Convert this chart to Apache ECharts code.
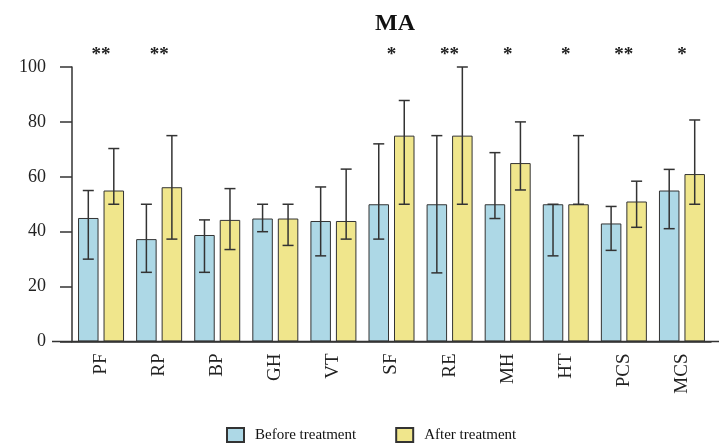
<!DOCTYPE html>
<html>
<head>
<meta charset="utf-8">
<script src="https://cdn.jsdelivr.net/npm/echarts@6/dist/echarts.min.js"></script>
<style>html,body{margin:0;padding:0;background:#fff;}#c{width:719px;height:446px;}</style>
</head>
<body>
<div id="c"></div>
<script>
const categories = ['PF','RP','BP','GH','VT','SF','RE','MH','HT','PCS','MCS'];
const beforeMean = [45, 37.3, 38.8, 44.8, 43.9, 50, 50, 50, 50, 43, 55];
const beforeLow  = [30, 25.2, 25.2, 40, 31.2, 37.3, 25, 44.8, 31.2, 33.2, 41.1];
const beforeHigh = [55, 50, 44.3, 50, 56.3, 72, 75, 68.8, 50, 49.2, 62.7];
const afterMean  = [55, 56.2, 44.3, 44.8, 43.9, 75, 75, 65, 50, 51, 61];
const afterLow   = [50, 37.3, 33.5, 35, 37.3, 50, 50, 55.2, 50, 41.6, 50];
const afterHigh  = [70.3, 75, 55.7, 50, 62.8, 87.8, 100, 80, 75, 58.4, 80.7];
const stars = ['**','**','','','','*','**','*','*','**','*'];
const yTicks = [0, 20, 40, 60, 80, 100];

const FONT = "'Liberation Serif', 'Times New Roman', serif";
const BAR_W = 20.5;
const GAP = 5;
const OFF = (BAR_W + GAP) / 2;
const DARK = '#333';
const GRID = { left: 72, right: 8, top: 67, bottom: 104.5 };

function errRender(offset) {
  return function (params, api) {
    const c = api.value(0);
    const x = api.coord([c, 0])[0] + offset;
    const yl = api.coord([c, api.value(1)])[1];
    const yh = api.coord([c, api.value(2)])[1];
    const hw = 5.5;
    const st = { stroke: DARK, lineWidth: 1.5 };
    return {
      type: 'group',
      children: [
        { type: 'line', shape: { x1: x, y1: yl, x2: x, y2: yh }, style: st },
        { type: 'line', shape: { x1: x - hw, y1: yh, x2: x + hw, y2: yh }, style: st },
        { type: 'line', shape: { x1: x - hw, y1: yl, x2: x + hw, y2: yl }, style: st }
      ]
    };
  };
}

const axisY = 446 - GRID.bottom;
const chart = echarts.init(document.getElementById('c'), null, { renderer: 'canvas' });
chart.setOption({
  animation: false,
  backgroundColor: '#fff',
  title: {
    text: 'MA',
    left: 370,
    top: 7,
    textStyle: { fontFamily: FONT, fontWeight: 'bold', fontSize: 24, color: '#111' }
  },
  legend: {
    data: ['Before treatment', 'After treatment'],
    left: 226,
    top: 427,
    padding: 0,
    itemWidth: 17,
    itemHeight: 14,
    itemGap: 39,
    icon: 'rect',
    textStyle: { fontFamily: FONT, fontSize: 15, color: '#111', padding: [0, 0, 0, 6] }
  },
  grid: { left: GRID.left, right: GRID.right, top: GRID.top, bottom: GRID.bottom, containLabel: false },
  graphic: [
    {
      type: 'line',
      silent: true,
      z: 10,
      shape: { x1: 52, y1: axisY, x2: 719, y2: axisY },
      style: { stroke: DARK, lineWidth: 1.5 }
    }
  ],
  xAxis: [
    {
      type: 'category',
      data: categories,
      position: 'bottom',
      axisLine: { lineStyle: { color: DARK, width: 1.5 } },
      axisTick: { show: false },
      axisLabel: { rotate: 90, margin: 12, fontFamily: FONT, fontSize: 19, color: '#222' }
    },
    {
      type: 'category',
      data: categories,
      position: 'top',
      axisLine: { show: false },
      axisTick: { show: false },
      axisLabel: {
        margin: 2,
        fontFamily: FONT,
        fontSize: 19,
        fontWeight: 'bold',
        color: '#222',
        formatter: function (v, i) { return stars[i]; }
      }
    }
  ],
  yAxis: {
    type: 'value',
    min: yTicks[0],
    max: yTicks[yTicks.length - 1],
    interval: 20,
    axisLine: { show: true, lineStyle: { color: DARK, width: 1.5 } },
    axisTick: { show: true, length: 12, lineStyle: { color: DARK, width: 1.5 } },
    splitLine: { show: false },
    axisLabel: { margin: 26, fontFamily: FONT, fontSize: 18, color: '#222' }
  },
  series: [
    {
      name: 'Before treatment',
      type: 'bar',
      data: beforeMean,
      barWidth: BAR_W,
      barGap: (GAP / BAR_W * 100) + '%',
      itemStyle: { color: '#ADD8E6', borderColor: DARK, borderWidth: 1 }
    },
    {
      name: 'After treatment',
      type: 'bar',
      data: afterMean,
      barWidth: BAR_W,
      barGap: (GAP / BAR_W * 100) + '%',
      itemStyle: { color: '#F0E68C', borderColor: DARK, borderWidth: 1 }
    },
    {
      name: 'err-before',
      type: 'custom',
      z: 5,
      renderItem: errRender(-OFF),
      data: categories.map((c, i) => [i, beforeLow[i], beforeHigh[i]]),
      encode: { x: 0, y: [1, 2] }
    },
    {
      name: 'err-after',
      type: 'custom',
      z: 5,
      renderItem: errRender(OFF),
      data: categories.map((c, i) => [i, afterLow[i], afterHigh[i]]),
      encode: { x: 0, y: [1, 2] }
    }
  ]
});
</script>
</body>
</html>
